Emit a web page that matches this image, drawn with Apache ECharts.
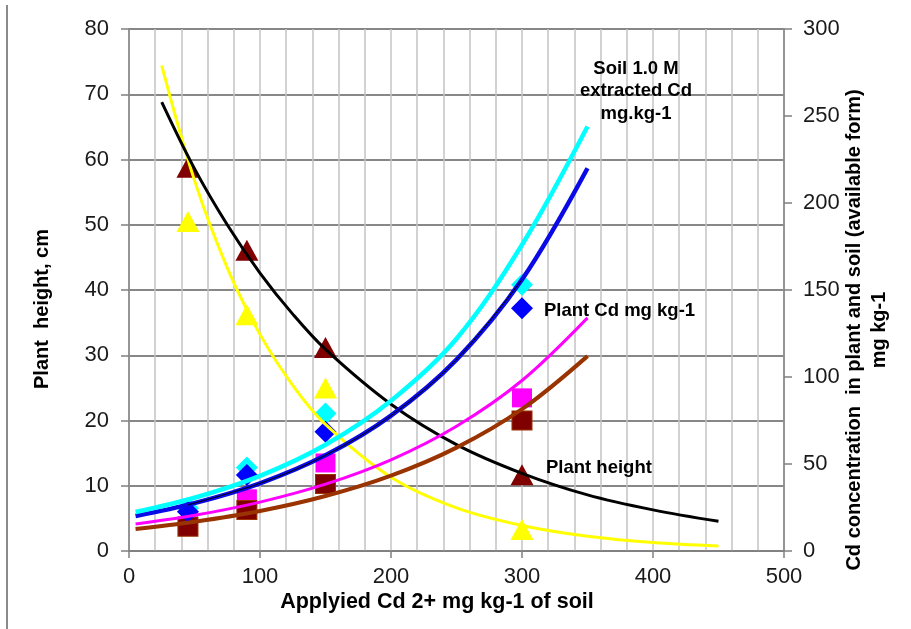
<!DOCTYPE html>
<html>
<head>
<meta charset="utf-8">
<script src="https://cdn.jsdelivr.net/npm/echarts@6/dist/echarts.min.js"></script>
<style>
html,body{margin:0;padding:0;background:#fff;}
#chart{width:911px;height:629px;}
</style>
</head>
<body>
<div id="chart"></div>
<script>
// ---- data ----
const doses = [45, 90, 150, 300];
const plantHeight = [58.8, 46.1, 31.2, 11.7];      // dark red triangles (left axis)
const yellowHeight = [50.5, 36.2, 25, 3.3];         // yellow triangles (left axis)
const soilCd = [24.5, 48, 79, 153];                 // cyan diamonds (right axis)
const plantCd = [22.6, 43.7, 68.5, 139.5];          // blue diamonds (right axis)
const magentaCd = [14.5, 30, 50.6, 88];             // magenta squares (right axis)
const darkRedCd = [14, 23.6, 38.5, 75];             // dark red squares (right axis)

// trend curves
const heightTrendX = [25, 50, 75, 100, 125, 150, 200, 250, 300, 350, 400, 450];
const blackTrend  = [68.8, 58.6, 50.0, 42.6, 36.3, 30.9, 22.5, 16.3, 11.9, 8.6, 6.3, 4.55];
const yellowTrend = [74.4, 56.8, 43.4, 33.2, 25.4, 19.4, 11.3, 6.6, 3.9, 2.25, 1.3, 0.77];

const cdTrendX = [5, 50, 100, 150, 200, 250, 300, 350];
const cyanTrend    = [22.4, 30.6, 43.2, 61.1, 86.4, 122, 176, 244];
const blueTrend    = [20.1, 27.5, 38.9, 55.0, 77.8, 110, 156, 220];
const magentaTrend = [15.5, 20.5, 28.1, 38.4, 52.4, 71.7, 98, 134];
const brownTrend   = [12.6, 16.8, 23.0, 31.6, 43.3, 59.4, 81.5, 112];
const thinTrendX = [45, 100, 150, 200, 250, 300];
const thinTrend  = [26.5, 38.9, 55.0, 77.8, 110, 156];

const xTicks = [0, 100, 200, 300, 400, 500];

// ---- build ----
const pairs = (xs, ys) => xs.map((x, i) => [x, ys[i]]);
const FONT = '"Liberation Sans", Arial, sans-serif';

function scatter(name, ys, yIdx, symbol, size, color, border) {
  const itemStyle = {color, opacity: 1};
  if (border) { itemStyle.borderColor = border; itemStyle.borderWidth = 1; }
  return {
    name, type: 'scatter', yAxisIndex: yIdx, symbol, symbolSize: size, z: 2,
    data: pairs(doses, ys), itemStyle, emphasis: {disabled: true}
  };
}
function trend(name, xs, ys, yIdx, color, width, z) {
  return {
    name, type: 'line', yAxisIndex: yIdx, showSymbol: false, symbol: 'none',
    smooth: 0.35, z: z, data: pairs(xs, ys),
    lineStyle: {color, width}, emphasis: {disabled: true}
  };
}

const chart = echarts.init(document.getElementById('chart'));
chart.setOption({
  animation: false,
  backgroundColor: '#ffffff',
  grid: {left: 129, right: 127, top: 29, bottom: 78},
  xAxis: {
    type: 'value', min: xTicks[0], max: xTicks[xTicks.length - 1], interval: 100,
    axisLine: {show: true, onZero: false, lineStyle: {color: '#808080', width: 1.5}},
    axisTick: {show: true, length: 7, lineStyle: {color: '#808080', width: 1.5}},
    axisLabel: {margin: 15, fontSize: 22, color: '#1a1a1a', fontFamily: FONT},
    splitLine: {show: true, lineStyle: {color: '#c4c4c4', width: 1.5}},
    minorTick: {show: false, splitNumber: 5},
    minorSplitLine: {show: true, lineStyle: {color: '#c4c4c4', width: 1.5}}
  },
  yAxis: [
    {
      type: 'value', min: 0, max: 80, interval: 10, position: 'left',
      axisLine: {show: true, lineStyle: {color: '#808080', width: 1.5}},
      axisTick: {show: true, length: 8, lineStyle: {color: '#808080', width: 1.5}},
      axisLabel: {margin: 20, fontSize: 22, color: '#1a1a1a', fontFamily: FONT},
      splitLine: {show: true, lineStyle: {color: '#5f5f5f', width: 1.5}}
    },
    {
      type: 'value', min: 0, max: 300, interval: 50, position: 'right',
      axisLine: {show: true, lineStyle: {color: '#808080', width: 1.5}},
      axisTick: {show: true, length: 8, lineStyle: {color: '#808080', width: 1.5}},
      axisLabel: {margin: 19, fontSize: 22, color: '#1a1a1a', fontFamily: FONT},
      splitLine: {show: false}
    }
  ],
  series: [
    scatter('Plant height', plantHeight, 0, 'triangle', [23, 21], '#800000'),
    scatter('Yellow', yellowHeight, 0, 'triangle', [23, 21], '#FFFF00'),
    scatter('Magenta Cd', magentaCd, 1, 'rect', [20, 19], '#FF00FF'),
    scatter('Dark red Cd', darkRedCd, 1, 'rect', [20, 19], '#800000', '#993300'),
    scatter('Soil 1.0 M extracted Cd', soilCd, 1, 'diamond', [22, 22], '#00FFFF'),
    scatter('Plant Cd', plantCd, 1, 'diamond', [22, 22], '#0000FF'),
    trend('Yellow trend', heightTrendX, yellowTrend, 0, '#FFFF00', 3, 3),
    trend('Plant height trend', heightTrendX, blackTrend, 0, '#000000', 3, 4),
    trend('Dark red trend', cdTrendX, brownTrend, 1, '#993300', 4, 5),
    trend('Magenta trend', cdTrendX, magentaTrend, 1, '#FF00FF', 3, 5),
    trend('Plant Cd trend', cdTrendX, blueTrend, 1, '#0a0ae6', 4.5, 6),
    trend('Plant Cd trend (thin)', thinTrendX, thinTrend, 1, '#000000', 1, 7),
    trend('Soil Cd trend', cdTrendX, cyanTrend, 1, '#00FFFF', 4.5, 8)
  ],
  graphic: [
    {type: 'line', shape: {x1: 7, y1: 5, x2: 7, y2: 629}, style: {stroke: '#8a8a8a', lineWidth: 2}, z: 10},
    {type: 'text', x: 42, y: 309, rotation: Math.PI / 2, z: 10,
      style: {text: 'Plant  height, cm', font: 'bold 20px ' + FONT, fill: '#000', align: 'center', verticalAlign: 'middle'}},
    {type: 'text', x: 867, y: 330, rotation: Math.PI / 2, z: 10,
      style: {text: 'Cd concentration  in plant and soil (available form)\nmg kg-1', font: 'bold 20px ' + FONT, fill: '#000', align: 'center', verticalAlign: 'middle', lineHeight: 25}},
    {type: 'text', x: 437, y: 602, z: 10,
      style: {text: 'Applyied Cd 2+ mg kg-1 of soil', font: 'bold 21.5px ' + FONT, fill: '#000', align: 'center', verticalAlign: 'middle'}},
    {type: 'text', x: 636, y: 91, z: 10,
      style: {text: 'Soil 1.0 M\nextracted Cd\nmg.kg-1', font: 'bold 18.5px ' + FONT, fill: '#000', align: 'center', verticalAlign: 'middle', lineHeight: 22.5}},
    {type: 'text', x: 544, y: 311, z: 10,
      style: {text: 'Plant Cd mg kg-1', font: 'bold 18.5px ' + FONT, fill: '#000', align: 'left', verticalAlign: 'middle'}},
    {type: 'text', x: 546, y: 468, z: 10,
      style: {text: 'Plant height', font: 'bold 18.5px ' + FONT, fill: '#000', align: 'left', verticalAlign: 'middle'}}
  ]
});
</script>
</body>
</html>
